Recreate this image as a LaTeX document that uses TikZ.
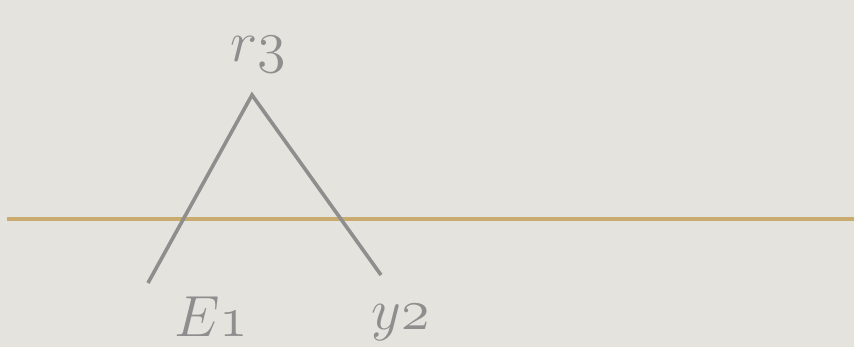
\documentclass[tikz,border=0pt]{standalone}
\usepackage{fix-cm}
\usepackage{tikz}
\definecolor{bg}{HTML}{E5E3DE}
\definecolor{tan}{HTML}{C9AB6F}
\definecolor{stem}{HTML}{8E8E8E}
\tikzset{
  lbl/.style={text=stem, inner sep=0pt, font=\fontsize{58}{70}\selectfont\itshape},
  branch/.style={draw=stem, line width=3.6pt},
  rule/.style={draw=tan, line width=3.8pt}
}
\begin{document}
\begin{tikzpicture}[x=1pt,y=1pt]
\fill[bg] (0,0) rectangle (854,347);
\useasboundingbox (0,0) rectangle (854,347);
\coordinate (ruleL) at (7,128);
\coordinate (ruleR) at (854,128);
\draw[rule] (ruleL) -- (ruleR);
\coordinate (apex) at (252,252);
\coordinate (leftend) at (148,64);
\coordinate (rightend) at (381,72);
\draw[branch] (leftend) -- (apex) -- (rightend);
\node[lbl, anchor=base] (r3) at (258,285) {$r\mathnormal{3}$};
\node[lbl, anchor=base] (e1) at (211,10) {$E\mathnormal{1}$};
\node[lbl, anchor=base] (y2) at (401,17) {$y\mathnormal{2}$};
\end{tikzpicture}
\end{document}
